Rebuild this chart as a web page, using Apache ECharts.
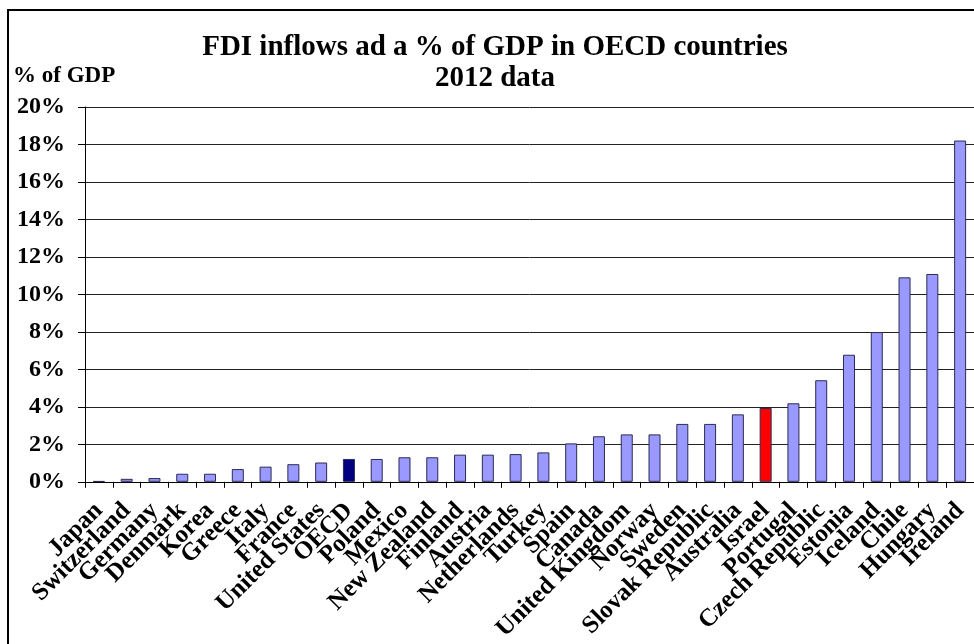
<!DOCTYPE html>
<html>
<head>
<meta charset="utf-8">
<script src="https://cdn.jsdelivr.net/npm/echarts@6/dist/echarts.min.js"></script>
<style>html,body{margin:0;padding:0;background:#fff}#c{width:974px;height:644px}</style>
</head>
<body>
<div id="c"></div>
<script>
const categories = ["Japan","Switzerland","Germany","Denmark","Korea","Greece","Italy","France","United States","OECD","Poland","Mexico","New Zealand","Finland","Austria","Netherlands","Turkey","Spain","Canada","United Kingdom","Norway","Sweden","Slovak Republic","Australia","Israel","Portugal","Czech Republic","Estonia","Iceland","Chile","Hungary","Ireland"];
const fdiPct = [0.04,0.16,0.2,0.43,0.43,0.68,0.81,0.94,1.03,1.22,1.22,1.31,1.31,1.45,1.45,1.48,1.57,2.05,2.43,2.53,2.53,3.09,3.09,3.6,3.94,4.19,5.42,6.78,7.99,10.91,11.09,18.21];
const yTicks = [0,2,4,6,8,10,12,14,16,18,20];

const highlight = {"OECD": "#000080", "Israel": "#ff0000"};
const serif = "'Liberation Serif','Times New Roman',serif";

const chart = echarts.init(document.getElementById('c'), null, {renderer: 'canvas'});
chart.setOption({
  animation: false,
  backgroundColor: '#fff',
  title: [
    {text: 'FDI inflows ad a % of GDP in OECD countries\n2012 data', left: 490, textAlign: 'center', top: 27,
     textStyle: {fontFamily: serif, fontWeight: 'bold', fontSize: 29, lineHeight: 31, color: '#000'}},
    {text: '% of GDP', left: 8, top: 60,
     textStyle: {fontFamily: serif, fontWeight: 'bold', fontSize: 23, color: '#000'}}
  ],
  graphic: [{type: 'rect', shape: {x: 8, y: 10, width: 1000, height: 700},
    style: {fill: null, stroke: '#000', lineWidth: 2}, silent: true}],
  grid: {left: 85, right: 0, top: 107, bottom: 162, containLabel: false},
  xAxis: {
    type: 'category', data: categories,
    axisLine: {lineStyle: {color: '#000', width: 1}},
    axisTick: {show: true, length: 6, lineStyle: {color: '#000'}},
    axisLabel: {interval: 0, rotate: 45, margin: 25, color: '#000',
      fontFamily: serif, fontWeight: 'bold', fontSize: 25}
  },
  yAxis: {
    type: 'value', min: yTicks[0], max: yTicks[yTicks.length - 1], interval: 2,
    axisLine: {show: true, lineStyle: {color: '#000', width: 1}},
    axisTick: {show: true, length: 7, lineStyle: {color: '#000'}},
    axisLabel: {formatter: '{value}%', margin: 20, color: '#000',
      fontFamily: serif, fontWeight: 'bold', fontSize: 24},
    splitLine: {show: true, lineStyle: {color: '#222', width: 1}}
  },
  series: [{
    type: 'bar', data: fdiPct, barWidth: 12,
    itemStyle: {
      color: p => highlight[categories[p.dataIndex]] || '#9999ff',
      borderColor: '#2b2b55', borderWidth: 1
    }
  }]
});
</script>
</body>
</html>
